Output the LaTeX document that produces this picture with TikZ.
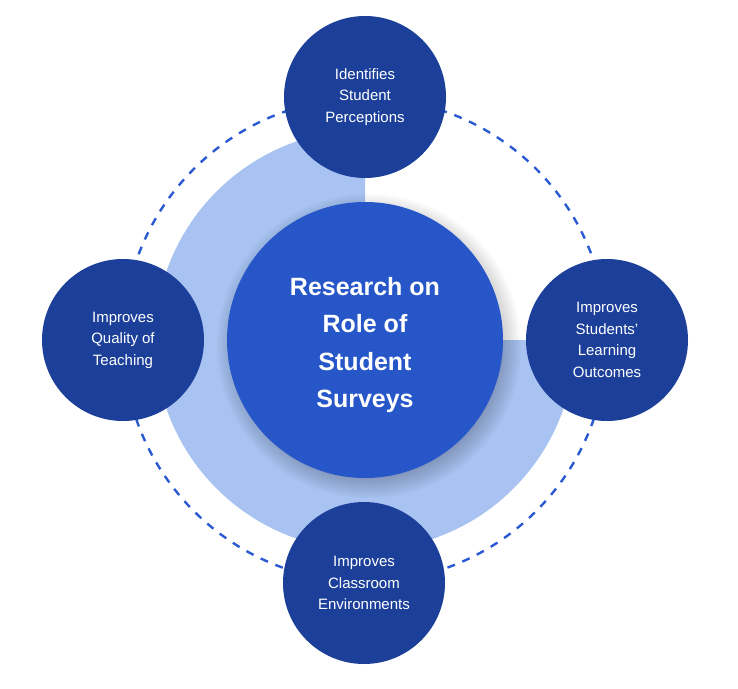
\documentclass[tikz,border=0pt]{standalone}
\usepackage{fontspec}
\setmainfont{Liberation Sans}
\definecolor{darkblue}{HTML}{1C409A}
\definecolor{midblue}{HTML}{2756C8}
\definecolor{lightblue}{HTML}{A8C2F1}
\definecolor{dashblue}{HTML}{2A5AD2}
\tikzset{
  small/.style={circle, fill=darkblue, minimum size=162pt, inner sep=0pt, text=white,
    align=center, font=\fontsize{15}{21.5}\selectfont},
  hub/.style={circle, fill=midblue, minimum size=276pt, inner sep=0pt},
  hubtext/.style={text=white, align=center, inner sep=0pt, yshift=-5pt,
    font=\fontsize{25}{37.5}\selectfont\bfseries},
  ring/.style={draw=dashblue, line width=2.4pt, dash pattern=on 8pt off 8pt},
  shadowlayer/.style={fill=black, fill opacity=0.018},
}
\begin{document}
\begin{tikzpicture}[x=1pt,y=-1pt]
\useasboundingbox (0,0) rectangle (738,688);
\coordinate (c) at (365,340);
\coordinate (sc) at (369,346);
% light blue three-quarter sector
\fill[lightblue] (c) -- (365,130) arc[start angle=-90, end angle=-360, radius=210] -- cycle;
% dashed ring
\draw[ring] (c) circle[radius=242];
% soft shadow of the hub
\foreach \r in {126,128,...,152} {\fill[shadowlayer] (sc) circle[radius=\r];}
% central hub
\node[hub, label={[hubtext]center:Research on\\Role of\\Student\\Surveys}] (hub) at (c) {};
% satellites
\node[small] (top) at (365,97) {Identifies\\Student\\Perceptions};
\node[small] (left) at (123,340) {Improves\\Quality of\\Teaching};
\node[small] (right) at (607,340) {Improves\\Students’\\Learning\\Outcomes};
\node[small] (bottom) at (364,583) {Improves\\Classroom\\Environments};
\end{tikzpicture}
\end{document}
